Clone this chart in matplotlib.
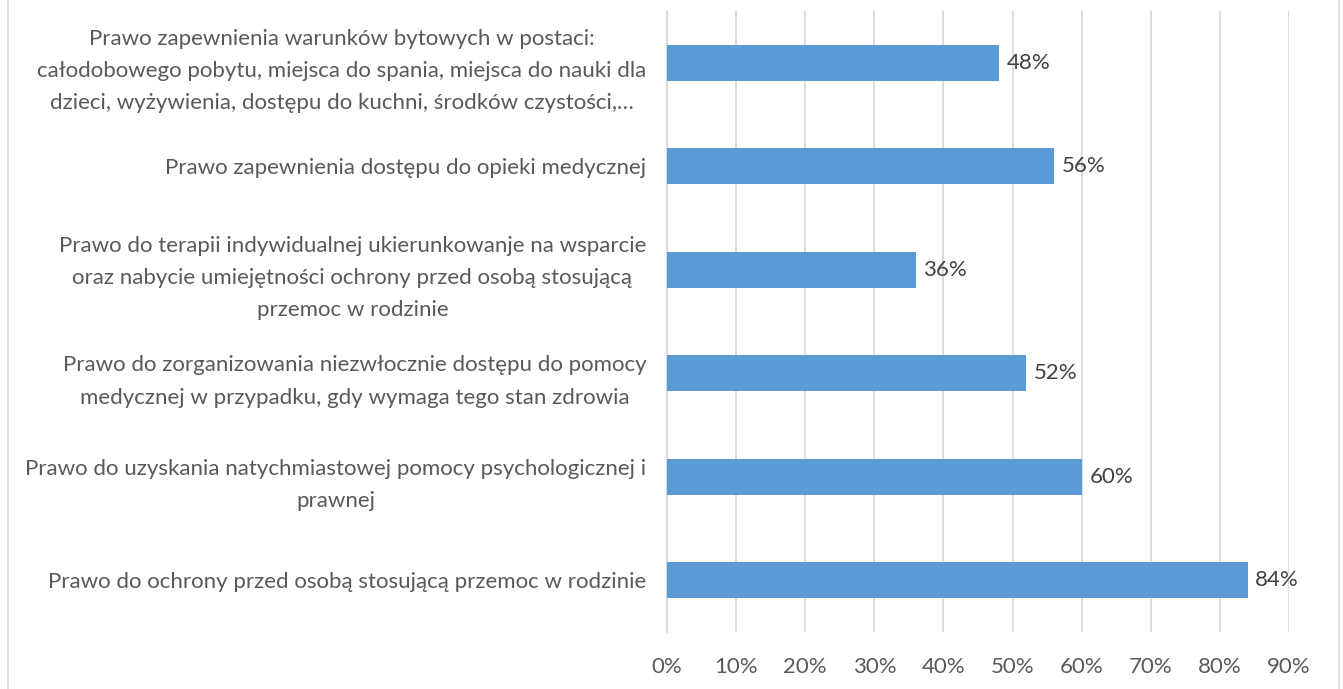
import matplotlib.pyplot as plt
from matplotlib.lines import Line2D

# category labels, top to bottom as in the chart
categories = [
    "Prawo zapewnienia warunków bytowych w postaci:\ncałodobowego pobytu, miejsca do spania, miejsca do nauki dla\ndzieci, wyżywienia, dostępu do kuchni, środków czystości,…",
    "Prawo zapewnienia dostępu do opieki medycznej",
    "Prawo do terapii indywidualnej ukierunkowanje na wsparcie\noraz nabycie umiejętności ochrony przed osobą stosującą\nprzemoc w rodzinie",
    "Prawo do zorganizowania niezwłocznie dostępu do pomocy\nmedycznej w przypadku, gdy wymaga tego stan zdrowia",
    "Prawo do uzyskania natychmiastowej pomocy psychologicznej i\nprawnej",
    "Prawo do ochrony przed osobą stosującą przemoc w rodzinie",
]
values = [0.48, 0.56, 0.36, 0.52, 0.60, 0.84]
xticks = [0, 0.1, 0.2, 0.3, 0.4, 0.5, 0.6, 0.7, 0.8, 0.9]

plt.rcParams["font.family"] = ["Lato", "DejaVu Sans"]
text_col = "#595959"

fig = plt.figure(figsize=(13.43, 6.89), dpi=100)
ax = fig.add_axes([667 / 1343, 57 / 689, 622 / 1343, 621 / 689])

pos = list(range(len(categories)))
bars = ax.barh(pos, values, height=0.35, color="#5B9BD5", zorder=3)
ax.set_ylim(len(categories) - 0.5, -0.5)
ax.set_xlim(0, 0.9)

ax.set_yticks(pos)
ax.set_yticklabels(categories, fontsize=16, color=text_col, ha="right",
                   multialignment="center", linespacing=1.78)
ax.set_xticks(xticks)
ax.set_xticklabels([f"{int(round(t * 100))}%" for t in xticks], fontsize=16, color=text_col)
ax.tick_params(axis="y", length=0, pad=15)
ax.tick_params(axis="x", length=0, pad=18)

ax.grid(axis="x", color="#D9D9D9", linewidth=1.3, zorder=0)
for s in ["top", "right", "bottom"]:
    ax.spines[s].set_visible(False)
ax.spines["left"].set_color("#D9D9D9")
ax.spines["left"].set_linewidth(1.3)

for b, v in zip(bars, values):
    ax.text(v + 0.011, b.get_y() + b.get_height() / 2, f"{int(round(v * 100))}%",
            va="center", ha="left", fontsize=16, color="#404040")

# chart frame (only the side lines show)
fig.add_artist(Line2D([8 / 1343, 8 / 1343], [0, 1], color="#D9D9D9", lw=1.3))
fig.add_artist(Line2D([1339 / 1343, 1339 / 1343], [0, 1], color="#D9D9D9", lw=1.3))

fig.savefig("out.png", dpi=100)
